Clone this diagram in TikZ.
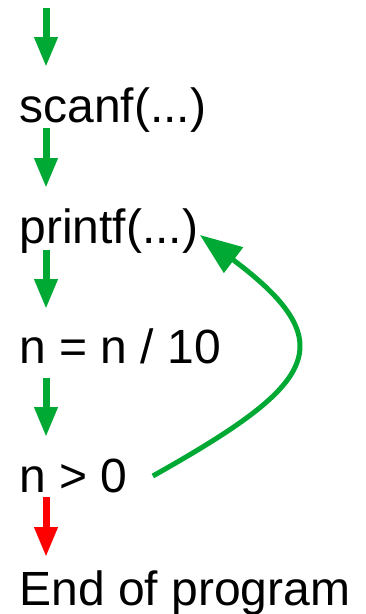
\documentclass[tikz,border=0pt]{standalone}
\usepackage{fontspec}
\setmainfont{Liberation Sans}
\usetikzlibrary{arrows.meta}
\definecolor{flowgreen}{HTML}{00A933}
\definecolor{flowred}{HTML}{FF0000}
\tikzset{
  every picture/.style={line width=0.75pt},
  stmt/.style={anchor=base west, inner sep=0pt, font=\fontsize{48pt}{57pt}\selectfont},
  flow/.style={draw=flowgreen, line width=7pt, -{Triangle[length=30pt,width=22pt]}},
  loopback/.style={draw=flowgreen, line width=5pt, -{Triangle[length=42pt,width=31pt]}}
}

\begin{document}
\begin{tikzpicture}[x=1pt,y=-1pt]
        \useasboundingbox (0,0) rectangle (365,614);
        \node[stmt] (scanf) at (19,122) {scanf(...)};
        \node[stmt] (printf) at (19,243) {printf(...)};
        \node[stmt] (divide) at (19,363) {n = n / 10};
        \node[stmt] (test) at (19,492) {n > 0};
        \node[stmt] (stop) at (19,605) {End of program};
        \coordinate (entry) at (46,8);
        \draw[flow] (entry) -- ([xshift=27pt,yshift=55pt]scanf.base west);
        \draw[flow] ([xshift=27pt,yshift=-6pt]scanf.base west) -- ([xshift=27pt,yshift=55pt]printf.base west);
        \draw[flow] ([xshift=27pt,yshift=-7pt]printf.base west) -- ([xshift=27pt,yshift=54pt]divide.base west);
        \draw[flow] ([xshift=27pt,yshift=-15pt]divide.base west) -- ([xshift=27pt,yshift=55pt]test.base west);
        \draw[flow, draw=flowred] ([xshift=27pt,yshift=-5pt]test.base west) -- ([xshift=27pt,yshift=48pt]stop.base west);
        % loop back while n > 0
        \draw[loopback] ([xshift=25pt,yshift=16pt]test.base east) .. controls +(160,-90) and +(147,110) .. ([xshift=1.5pt,yshift=8pt]printf.base east);
    \end{tikzpicture}
\end{document}
